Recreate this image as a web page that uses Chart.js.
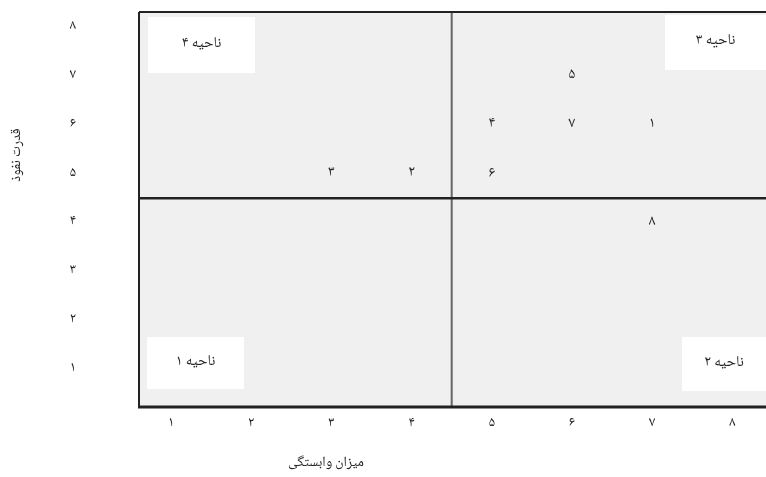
<!DOCTYPE html>
<html><head><meta charset="utf-8">
<script src="https://cdn.jsdelivr.net/npm/chart.js@4.4.1/dist/chart.umd.min.js"></script>
<style>html,body{margin:0;padding:0;background:#fff}#wrap{width:766px;height:477px}</style>
</head><body><div id="wrap"><canvas id="c" width="766" height="477"></canvas></div>
<script>
const pointLabels = ['۱','۲','۳','۴','۵','۶','۷','۸'];
const xValues = [7, 4, 3, 5, 6, 5, 6, 7];
const yValues = [6, 5, 5, 6, 7, 5, 6, 4];
const tickValues = [1, 2, 3, 4, 5, 6, 7, 8];
const tickLabels = ['۱','۲','۳','۴','۵','۶','۷','۸'];
const xTitle = 'میزان وابستگی';
const yTitle = 'قدرت نفوذ';
const zoneLabels = ['ناحیه ۱', 'ناحیه ۲', 'ناحیه ۳', 'ناحیه ۴'];
const xSplit = 4.5;
const ySplit = 4.5;

const FONT = "'Noto Naskh Arabic','Noto Sans Arabic','DejaVu Sans',sans-serif";
const TXT = '#222';

const decor = {
  id: 'decor',
  beforeDatasetsDraw(chart) {
    const {ctx, chartArea: a, scales: {x, y}} = chart;
    ctx.save();
    ctx.fillStyle = '#f0f0f0';
    ctx.fillRect(a.left, a.top, a.right - a.left, a.bottom - a.top);
    const boxes = [
      {l: a.left + 8, t: a.bottom - 70, w: 97, h: 52, txt: zoneLabels[0]},
      {l: a.right - 84, t: a.bottom - 70, w: 84, h: 54, txt: zoneLabels[1]},
      {l: a.right - 101, t: a.top + 3, w: 101, h: 55, txt: zoneLabels[2]},
      {l: a.left + 9, t: a.top + 5, w: 107, h: 56, txt: zoneLabels[3]}
    ];
    ctx.font = '15px ' + FONT;
    ctx.textAlign = 'center';
    ctx.textBaseline = 'middle';
    ctx.direction = 'rtl';
    boxes.forEach(b => {
      ctx.fillStyle = '#fff';
      ctx.fillRect(b.l, b.t, b.w, b.h);
      ctx.fillStyle = TXT;
      ctx.fillText(b.txt, b.l + b.w / 2, b.t + b.h / 2);
    });
    const xs = x.getPixelForValue(xSplit);
    const ys = y.getPixelForValue(ySplit);
    ctx.strokeStyle = '#666';
    ctx.lineWidth = 2;
    ctx.beginPath(); ctx.moveTo(xs, a.top); ctx.lineTo(xs, a.bottom); ctx.stroke();
    ctx.strokeStyle = '#222';
    ctx.lineWidth = 2.5;
    ctx.beginPath(); ctx.moveTo(a.left, ys); ctx.lineTo(a.right, ys); ctx.stroke();
    ctx.strokeStyle = '#222';
    ctx.lineWidth = 2;
    ctx.beginPath(); ctx.moveTo(a.left, a.top); ctx.lineTo(a.right, a.top); ctx.stroke();
    ctx.beginPath(); ctx.moveTo(a.left, a.top); ctx.lineTo(a.left, a.bottom); ctx.stroke();
    ctx.lineWidth = 3;
    ctx.beginPath(); ctx.moveTo(a.left - 1, a.bottom); ctx.lineTo(a.right, a.bottom); ctx.stroke();
    ctx.restore();
  },
  afterDatasetsDraw(chart) {
    const {ctx} = chart;
    const meta = chart.getDatasetMeta(0);
    ctx.save();
    ctx.font = '15px ' + FONT;
    ctx.fillStyle = TXT;
    ctx.textAlign = 'center';
    ctx.textBaseline = 'middle';
    meta.data.forEach((el, i) => {
      ctx.fillText(pointLabels[i], el.x, el.y);
    });
    ctx.font = '14px ' + FONT;
    ctx.direction = 'rtl';
    ctx.fillText(xTitle, 326, 464);
    ctx.translate(18, 155);
    ctx.rotate(-Math.PI / 2);
    ctx.fillText(yTitle, 0, 0);
    ctx.restore();
  }
};

function noPad(s) {
  s.paddingTop = 0; s.paddingBottom = 0; s.paddingLeft = 0; s.paddingRight = 0;
}

new Chart(document.getElementById('c'), {
  type: 'scatter',
  data: {
    datasets: [{
      data: xValues.map((v, i) => ({x: v, y: yValues[i]})),
      pointRadius: 0,
      pointHoverRadius: 0
    }]
  },
  options: {
    responsive: false,
    animation: false,
    events: [],
    layout: {padding: {top: 12, right: 0, left: 0, bottom: 0}},
    plugins: {legend: {display: false}, tooltip: {enabled: false}},
    scales: {
      x: {
        type: 'linear', min: 0.6, max: 8.42,
        afterBuildTicks: s => { s.ticks = tickValues.map(v => ({value: v})); },
        afterFit: s => { s.height = 70; noPad(s); },
        grid: {display: false, drawTicks: false},
        border: {display: false},
        ticks: {
          padding: 9, color: TXT, font: {size: 14, family: FONT},
          maxRotation: 0, autoSkip: false,
          callback: v => tickLabels[tickValues.indexOf(v)]
        }
      },
      y: {
        type: 'linear', min: 0.22, max: 8.32,
        afterBuildTicks: s => { s.ticks = tickValues.map(v => ({value: v})); },
        afterFit: s => { s.width = 139; noPad(s); },
        grid: {display: false, drawTicks: false},
        border: {display: false},
        ticks: {
          padding: 63, color: TXT, font: {size: 14, family: FONT},
          autoSkip: false,
          callback: v => tickLabels[tickValues.indexOf(v)]
        }
      }
    }
  },
  plugins: [decor]
});
</script>
</body></html>
